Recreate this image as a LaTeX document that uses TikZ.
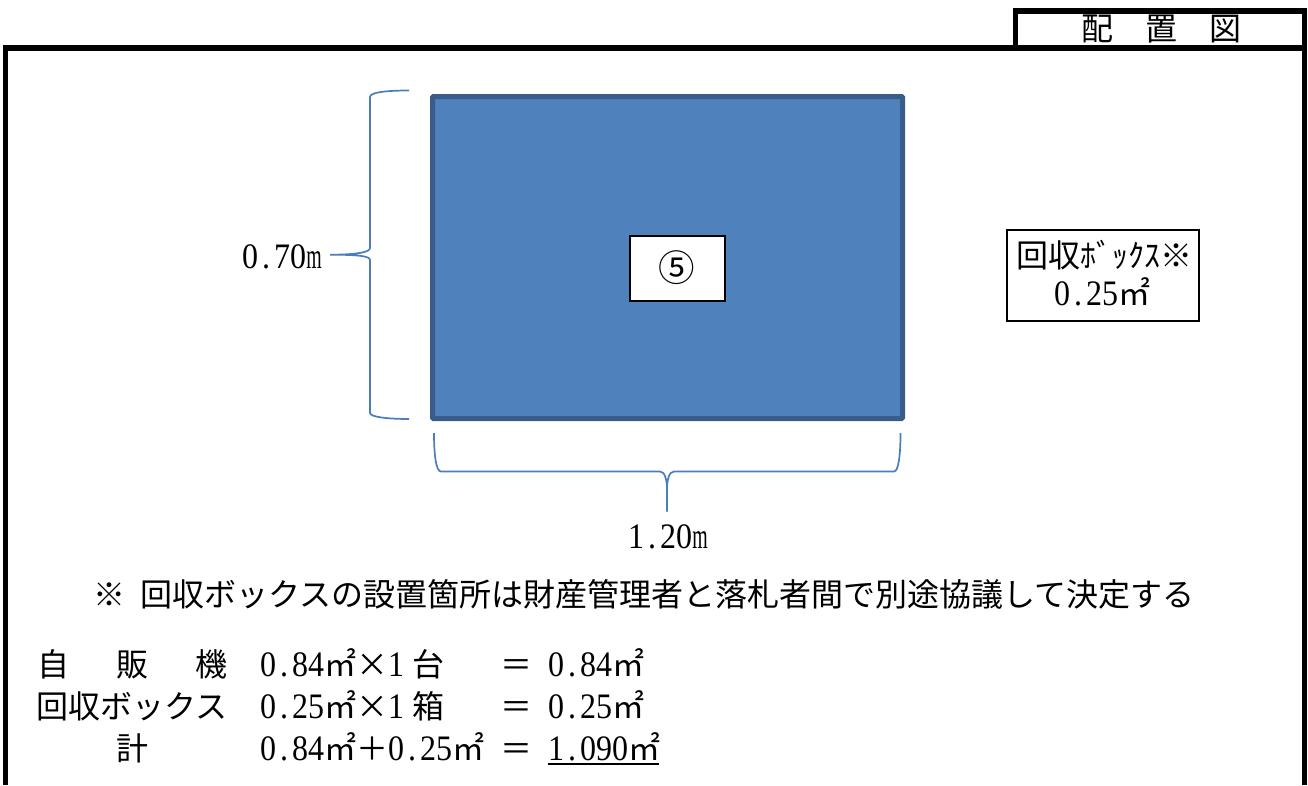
\documentclass[tikz,border=0pt]{standalone}
\usepackage{fontspec}
\setmainfont{Noto Sans CJK JP}
\newfontfamily\lat{Liberation Serif}
\newcommand\pd{\makebox[16pt][c]{.}}
\newcommand\mh{\makebox[16pt][c]{\scalebox{.62}[1]{m}}}
\newcommand\n[1]{\scalebox{1}[1.12]{\lat #1}}
\newcommand\mm{\makebox[32pt][c]{㎡}}
\newcommand\fw[1]{\makebox[32pt][c]{#1}}
\definecolor{bfill}{HTML}{4F81BD}
\definecolor{bedge}{HTML}{385D8A}
\definecolor{brace}{HTML}{4A7EBB}
\tikzset{
  frame/.style={line width=5.5pt,black},
  lbl/.style={anchor=base west,inner sep=0pt,font=\fontsize{32pt}{32pt}\selectfont},
  brc/.style={draw=brace,line width=1.7pt},
  whitebox/.style={draw=black,fill=white,line width=2pt,inner sep=0pt}
}
\begin{document}
\begin{tikzpicture}[x=1pt,y=-1pt]
\useasboundingbox (0,0) rectangle (1308,785);
% outer frame
\coordinate (fbl) at (5.5,785);
\coordinate (ftl) at (5.5,48);
\coordinate (ftr) at (1304.5,48);
\coordinate (fbr) at (1304.5,785);
\draw[frame] (fbl) -- (ftl) -- (ftr) -- (fbr);
\coordinate (tbl) at (1015.5,48);
\coordinate (ttl) at (1015.5,11);
\coordinate (ttr) at (1304.5,11);
\draw[frame,line cap=rect] (tbl) -- (ttl) -- (ttr) -- (ftr);
\node[lbl] (title) at (1081,40) {配　置　図};
% blue rectangle
\node[draw=bedge,fill=bfill,line width=5pt,rounded corners=1pt,minimum width=470pt,minimum height=322pt,inner sep=0pt,outer sep=0pt] (mach) at (667.5,257.5) {};
\node[whitebox,minimum width=95pt,minimum height=65pt] (five) at (677.5,268.5) {};
\node[inner sep=0pt] (fivet) at (677,268) {\scalebox{1.14}{\fontsize{32pt}{32pt}\selectfont ⑤}};
% left brace
\coordinate (la) at (409,90.5);
\coordinate (lb) at (409,419);
\coordinate (lt) at (330,254.7);
\draw[brc] (la) .. controls (388,90.5) and (370,92) .. (370,97) -- (370,248)
  .. controls (370,252) and (358,254.7) .. (lt)
  .. controls (358,254.7) and (370,256) .. (370,260) -- (370,413)
  .. controls (370,417) and (388,419) .. (lb);
\node[lbl] (w70) at (242,268) {\n{0\pd 70\mh}};
% bottom brace
\coordinate (ba) at (434,433);
\coordinate (bb) at (900.5,433);
\coordinate (bt) at (667,511.5);
\draw[brc] (ba) .. controls (434,455) and (436,471.5) .. (441,471.5) -- (660,471.5)
  .. controls (665,471.5) and (667,480) .. (667,490) -- (bt)
  -- (667,490) .. controls (667,480) and (669,471.5) .. (674,471.5) -- (894,471.5)
  .. controls (898.5,471.5) and (900.5,455) .. (bb);
\node[lbl] (w120) at (628,548) {\n{1\pd 20\mh}};
% recovery box
\node[whitebox,minimum width=192pt,minimum height=91pt] (rbox) at (1102.5,275) {};
\node[lbl] (r1) at (1016,267) {回収ﾎﾞｯｸｽ※};
\node[lbl] (r2) at (1054,305) {\n{0\pd 25}\mm};
% note
\node[lbl] (note) at (93,606) {※\hspace{15pt}回収ボックスの設置箇所は財産管理者と落札者間で別途協議して決定する};
% table
\node[lbl] (a1) at (37,676) {自\hspace{47pt}販\hspace{47pt}機};
\node[lbl] (b1) at (260,676) {\n{0\pd 84}\mm\fw{×}\n{1}\hspace{8pt}台};
\node[lbl] (c1) at (500,676) {＝};
\node[lbl] (d1) at (548,676) {\n{0\pd 84}\mm};
\node[lbl] (a2) at (36,718) {回収ボックス};
\node[lbl] (b2) at (260,718) {\n{0\pd 25}\mm\fw{×}\n{1}\hspace{8pt}箱};
\node[lbl] (c2) at (500,718) {＝};
\node[lbl] (d2) at (548,718) {\n{0\pd 25}\mm};
\node[lbl] (a3) at (116,760) {計};
\node[lbl] (b3) at (260,760) {\n{0\pd 84}\mm＋\n{0\pd 25}\mm};
\node[lbl] (c3) at (500,760) {＝};
\node[lbl] (d3) at (548,760) {\n{1\pd 090}\mm};
\coordinate (ul) at (548,763.5);
\coordinate (ur) at (659,763.5);
\draw[line width=2pt] (ul) -- (ur);
\end{tikzpicture}
\end{document}
